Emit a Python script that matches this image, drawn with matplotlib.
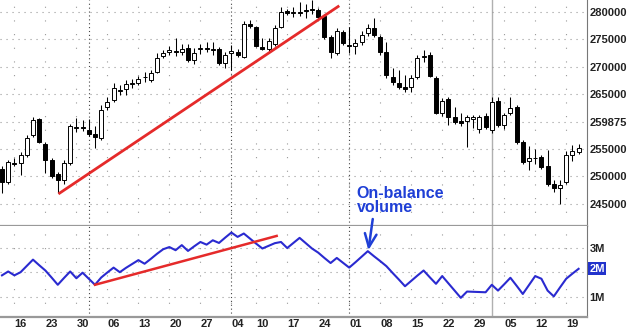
import matplotlib
matplotlib.use('Agg')
import numpy as np
from matplotlib import pyplot as plt
from matplotlib.transforms import blended_transform_factory

plt.rcParams['font.family'] = ['Liberation Sans', 'DejaVu Sans']

# daily candles
opens = [251350, 248980, 252530, 252440, 253900, 257550, 260470, 255910, 252990, 250440,
         249340, 252440, 258920, 259100, 258470, 257740, 257000, 262660, 263940, 265670,
         265950, 266950, 267040, 268140, 267590, 269050, 271970, 272700, 272980, 272700,
         273430, 271240, 273340, 273430, 273160, 273250, 270690, 272610, 272700, 271790,
         277810, 277260, 273610, 273250, 274160, 277260, 280180, 279910, 280090, 280450,
         280640, 280370, 279270, 275440, 272520, 276350, 274070, 273800, 274530, 276170,
         277080, 275440, 272700, 268140, 267040, 266310, 266310, 268140, 271880, 272150,
         267960, 261570, 264120, 260840, 260110, 260110, 260470, 258650, 261020, 258470,
         263760, 259380, 261570, 262660, 256280, 252810, 253270, 253540, 251900, 248610,
         247880, 248980, 253900, 254450]
highs = [251900, 252990, 253350, 254450, 257550, 260840, 260650, 256280, 253350, 250800,
         252990, 259560, 260650, 260290, 260470, 259200, 263030, 264490, 267040, 266680,
         267590, 267770, 268320, 269050, 269410, 272520, 273070, 273800, 275260, 274160,
         274160, 273430, 274160, 274530, 274530, 273610, 272700, 273980, 273250, 278360,
         278540, 277450, 275260, 275260, 277630, 280910, 280550, 281000, 281830, 281460,
         282190, 280730, 279630, 275800, 277080, 276710, 277260, 275070, 276530, 277810,
         278900, 275800, 274530, 269780, 269410, 268500, 268500, 272150, 273070, 272700,
         268320, 264310, 264490, 262660, 261570, 261200, 261200, 261200, 261570, 264490,
         264490, 261570, 264490, 263030, 256640, 255550, 255000, 253900, 254820, 249340,
         249340, 254630, 255730, 255910]
lows = [246970, 248600, 251900, 250250, 253540, 257190, 256090, 250620, 249700, 246970,
        248610, 252080, 258100, 258280, 257370, 255180, 256640, 262120, 263580, 264850,
        264850, 266130, 266680, 267230, 267230, 268870, 271600, 272150, 271970, 272150,
        270880, 270510, 272330, 272700, 272150, 270330, 269780, 269420, 271790, 271600,
        277080, 273610, 273070, 272880, 273800, 277080, 279450, 279090, 279270, 278900,
        279630, 278720, 275080, 271610, 272150, 273980, 272520, 272330, 273980, 275620,
        275440, 272150, 267960, 266680, 265950, 265400, 265400, 267770, 270880, 268140,
        261390, 261020, 259380, 259560, 259200, 255360, 258830, 257920, 258650, 257920,
        259010, 258650, 261200, 255910, 252260, 251170, 252260, 251350, 248250, 247150,
        244960, 248610, 252810, 254080]
closes = [248980, 252630, 252260, 253900, 257000, 260290, 256280, 252990, 250070, 249340,
          252440, 259200, 259100, 258920, 257740, 257190, 262120, 263580, 266130, 265860,
          266860, 267130, 267770, 268230, 268870, 271600, 272520, 273070, 272700, 273250,
          271240, 272520, 273520, 273340, 273340, 270690, 272150, 272800, 272150, 277810,
          277450, 273800, 273250, 274710, 277080, 280000, 279820, 280090, 279910, 280270,
          280450, 279090, 275440, 272700, 276530, 274340, 273890, 274340, 275800, 277080,
          275800, 272700, 268500, 267230, 266310, 265950, 267960, 271610, 272060, 268320,
          261570, 263760, 260840, 259930, 259740, 260840, 260840, 260840, 259010, 263580,
          259380, 261200, 262480, 256280, 252630, 253360, 253450, 251710, 248610, 247880,
          248430, 253900, 254630, 255180]

# on-balance volume, millions
obv = [1.88, 2.04, 1.88, 2.01, 2.27, 2.53, 2.30, 2.08, 1.79, 1.49,
       1.77, 2.04, 1.76, 1.99, 1.74, 1.49, 1.79, 2.00, 2.20, 2.01,
       2.19, 2.35, 2.51, 2.36, 2.56, 2.77, 2.96, 3.05, 2.92, 3.13,
       2.89, 3.08, 3.26, 3.15, 3.33, 3.22, 3.44, 3.65, 3.47, 3.61,
       3.40, 3.19, 2.99, 3.10, 3.21, 3.26, 3.01, 3.22, 3.43, 3.21,
       2.99, 2.82, 2.60, 2.39, 2.60, 2.40, 2.20, 2.42, 2.65, 2.88,
       2.67, 2.47, 2.26, 1.98, 1.71, 1.43, 1.65, 1.87, 2.08, 1.80,
       1.53, 1.85, 1.55, 1.25, 0.95, 1.21, 1.20, 1.19, 1.18, 1.49,
       1.25, 1.51, 1.78, 1.45, 1.11, 1.48, 1.85, 1.74, 1.25, 1.01,
       1.38, 1.74, 1.95, 2.15]

# week ticks (bar index) and their day labels
tick_pos = [2, 7, 12, 17, 22, 27, 32, 37, 41, 46, 51, 56, 61, 66, 71, 76, 81, 86, 91]
tick_labels = ['16', '23', '30', '06', '13', '20', '27', '04', '10', '17', '24', '01',
               '08', '15', '22', '29', '05', '12', '19']
month_starts = [14, 37, 56, 79]

price_ticks = [245000, 250000, 255000, 260000, 265000, 270000, 275000, 280000]
price_labels = ['245000', '250000', '255000', '259875', '265000', '270000', '275000', '280000']
obv_ticks = [1, 2, 3]
obv_labels = ['1M', '', '3M']

# hand drawn trend lines
price_trend_x = [9.1, 54.4]
price_trend_y = [246800, 281150]
obv_trend_x = [15, 44.3]
obv_trend_y = [1.49, 3.51]

blue = '#2a2ad0'
red = '#e52a2a'

fig = plt.figure(figsize=(6.3, 3.3), dpi=100)
ax1 = fig.add_axes([0, 0.3152, 0.9317, 0.6848])
ax2 = fig.add_axes([0, 0.0403, 0.9317, 0.2748], sharex=ax1)

x = np.arange(len(opens))
o = np.array(opens)
c = np.array(closes)
up = c >= o

ax1.vlines(x, lows, highs, color='black', lw=0.75, zorder=2)
ax1.bar(x, np.abs(c - o), bottom=np.minimum(o, c), width=0.65,
        color=np.where(up, 'white', 'black'), edgecolor='black', linewidth=0.7, zorder=3)
ax1.plot(price_trend_x, price_trend_y, color=red, lw=2, zorder=4, solid_capstyle='butt')

ax1.set_xlim(-0.32, 94.35)
ax1.set_ylim(240950, 282200)
ax1.yaxis.tick_right()
ax1.set_yticks(price_ticks)
ax1.set_yticklabels(price_labels)
for t in ax1.get_yticklabels():
    if t.get_text() == '259875':
        t.set_color('#999999')

ax2.plot(x, obv, color=blue, lw=1.5, zorder=3)
ax2.plot(obv_trend_x, obv_trend_y, color=red, lw=1.8, zorder=4)
ax2.set_ylim(0.17, 3.92)
ax2.yaxis.tick_right()
ax2.set_yticks(obv_ticks)
ax2.set_yticklabels(obv_labels)
ax2.set_xticks(tick_pos)
ax2.set_xticklabels(tick_labels, ha='left')

for ax in (ax1, ax2):
    ax.tick_params(length=0, labelsize=8, pad=2, colors='#222222')
    for t in ax.get_xticklabels() + ax.get_yticklabels():
        t.set_fontweight('bold')
    ax.grid(axis='y', ls=(0, (1, 4.4)), color='#999999', lw=0.8)
    ax.grid(axis='x', ls=(0, (1, 11.3)), color='#999999', lw=0.8)
    for m in month_starts[:3]:
        ax.axvline(m, ls=(0, (1, 2.5)), color='#444444', lw=0.8, zorder=1)
    ax.axvline(month_starts[3], color='#b0b0b0', lw=1, zorder=1)
    ax.spines['top'].set_visible(False)
    ax.spines['left'].set_visible(False)
    ax.spines['right'].set_color('#777777')
    ax.spines['right'].set_linewidth(0.8)
    ax.spines['bottom'].set_color('#999999')
    ax.spines['bottom'].set_linewidth(1.6)
ax1.tick_params(labelbottom=False)

# current obv value box
tr = blended_transform_factory(ax2.transAxes, ax2.transData)
ax2.text(1.004, obv[-1], '2M', transform=tr, ha='left', va='center', color='white',
         fontsize=8, fontweight='bold',
         bbox=dict(boxstyle='square,pad=0.12', fc='#2233cc', ec='none'))

ax1.text(57.2, 248300, 'On-balance\nvolume', color='#1f3fd6', fontsize=11.5,
         fontweight='bold', ha='left', va='top', linespacing=0.95)
ax2.annotate('', xy=(59.1, 2.92), xytext=(59.8, 4.21),
             arrowprops=dict(arrowstyle='->,head_length=0.8,head_width=0.35', color='#1f3fd6',
                             lw=1.8, mutation_scale=12, shrinkA=0, shrinkB=0),
             annotation_clip=False)

fig.savefig('out.png', dpi=100)
